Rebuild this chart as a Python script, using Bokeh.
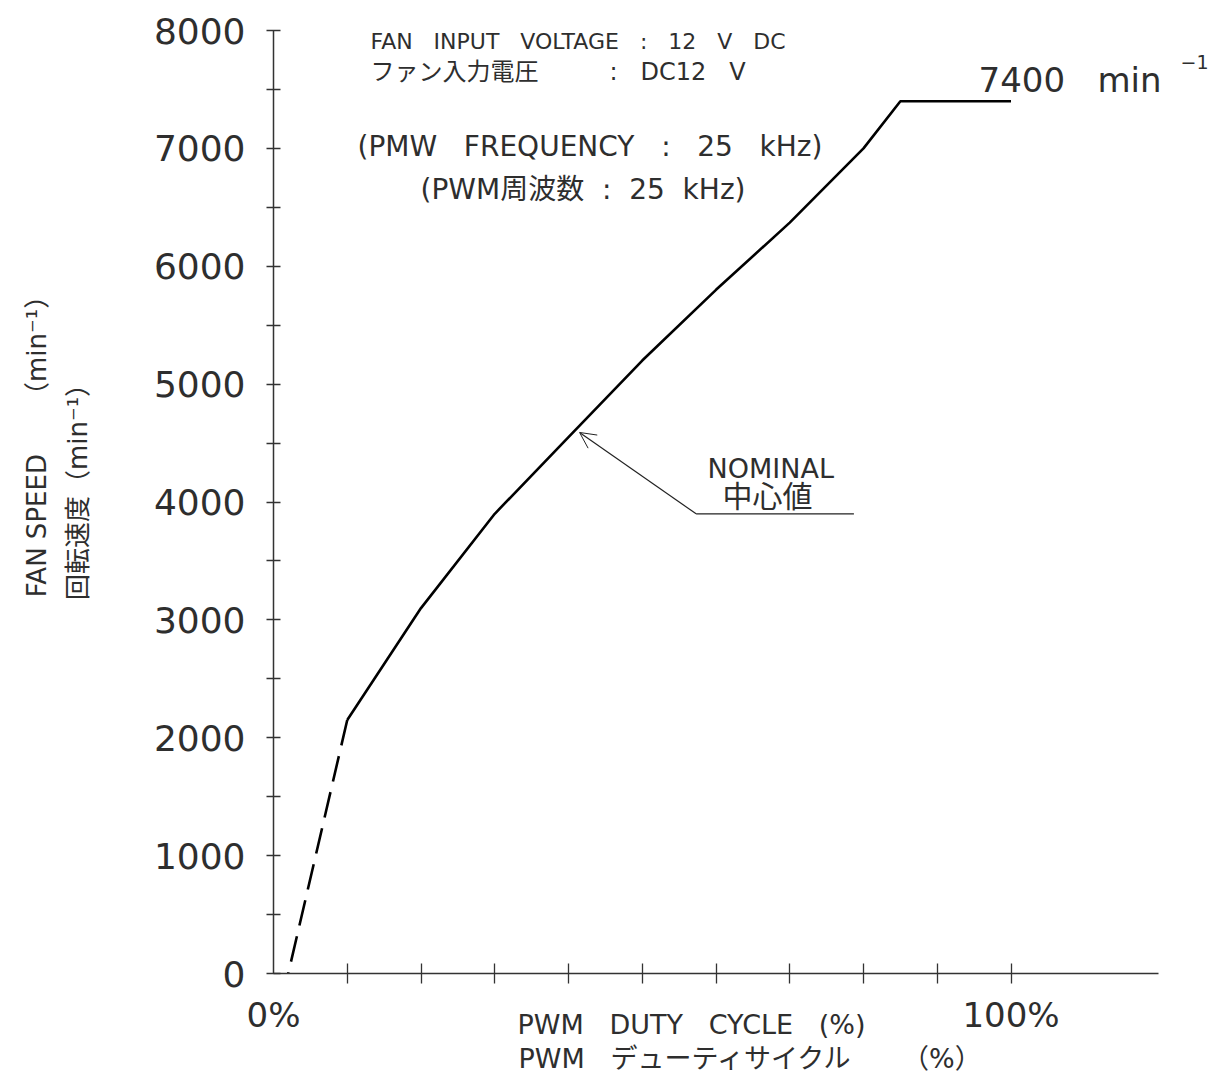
import math
from bokeh.plotting import figure
from bokeh.models import Range1d, FixedTicker, Label, Arrow, OpenHead
from bokeh.embed import file_html
from bokeh.resources import INLINE

# ---- data ----
duty_pct = [2, 10, 20, 30, 40, 50, 60, 70, 80, 85, 100]
fan_speed = [0, 2150, 3100, 3900, 4550, 5200, 5800, 6370, 7000, 7400, 7400]
y_major = [0, 1000, 2000, 3000, 4000, 5000, 6000, 7000, 8000]
y_minor = [500, 1500, 2500, 3500, 4500, 5500, 6500, 7500]
x_major = [0, 100]
x_major_labels = ["0%", "100%"]
x_minor = [10, 20, 30, 40, 50, 60, 70, 80, 90, 100]
x_axis_end = 120

# annotation (nominal leader) in data units
leader_tail = (57.3, 3900)
leader_tip = (41.5, 4590)
leader_end_x = 78.7

W, H = 1212, 1079
FL, FB = 273, 973   # frame left / bottom in page pixels
X_AXIS_RIGHT = 1158  # page pixel where the x axis line ends
FONT = "DejaVu Sans, Noto Sans CJK JP"
TXT = "#2e2e2e"
AX = "#333333"
NB = "\u00a0"
G2 = NB * 2
G3 = NB * 3

x_end = x_axis_end * (W - FL) / (X_AXIS_RIGHT - FL)

p = figure(width=W, height=H, output_backend="svg", toolbar_location=None,
           x_range=Range1d(0, x_end), y_range=Range1d(0, 8000),
           min_border_left=FL, min_border_right=0, min_border_top=30,
           min_border_bottom=H - FB)
p.outline_line_color = None
p.xgrid.visible = False
p.ygrid.visible = False
p.background_fill_color = "white"
p.border_fill_color = "white"

# axes
xa = p.xaxis[0]
xa.bounds = (0, x_axis_end)
xa.ticker = FixedTicker(ticks=x_major, minor_ticks=x_minor)
xa.major_label_overrides = {x: s for x, s in zip(x_major, x_major_labels)}
xa.major_tick_in = 0
xa.major_tick_out = 0
xa.minor_tick_in = 10
xa.minor_tick_out = 10
xa.axis_line_color = AX
xa.axis_line_width = 1.5
xa.minor_tick_line_color = AX
xa.minor_tick_line_width = 1.3
xa.major_label_standoff = 11
xa.major_label_text_font = FONT
xa.major_label_text_font_size = "34px"
xa.major_label_text_color = TXT
xa.axis_label = (NB * 2 + f"PWM{G3}DUTY{G3}CYCLE{G3}(%)" + NB * 14 + "\n"
                 + NB * 2 + f"PWM{G3}デューティサイクル{G3}{G3}（%）")
xa.axis_label_text_font = FONT
xa.axis_label_text_font_size = "27px"
xa.axis_label_text_font_style = "normal"
xa.axis_label_text_color = TXT
xa.axis_label_text_line_height = 1.1
xa.axis_label_standoff = -29

ya = p.yaxis[0]
ya.ticker = FixedTicker(ticks=y_major, minor_ticks=y_minor)
ya.major_tick_in = 7
ya.major_tick_out = 7
ya.minor_tick_in = 7
ya.minor_tick_out = 7
ya.axis_line_color = AX
ya.axis_line_width = 1.5
ya.major_tick_line_color = AX
ya.minor_tick_line_color = AX
ya.major_tick_line_width = 1.3
ya.minor_tick_line_width = 1.3
ya.major_label_standoff = 21
ya.major_label_text_font = FONT
ya.major_label_text_font_size = "36px"
ya.major_label_text_color = TXT
ya.axis_label = (NB * 15 + "FAN SPEED" + NB * 4 + "　（min⁻¹）" + "\n"
                 + NB * 15 + "回転速度（min⁻¹）" + NB * 11)
ya.axis_label_text_font = FONT
ya.axis_label_text_font_size = "26px"
ya.axis_label_text_font_style = "normal"
ya.axis_label_text_color = TXT
ya.axis_label_text_line_height = 1.35
ya.axis_label_standoff = 58

# curve: dashed start (drawn from the knee downward), then solid
p.line(duty_pct[1::-1], fan_speed[1::-1], line_color="black", line_width=2.6,
       line_dash="26 11")
p.line(duty_pct[1:], fan_speed[1:], line_color="black", line_width=2.6)

# nominal leader
p.add_layout(Arrow(end=OpenHead(size=16, line_width=1, line_color="#222222"),
                   x_start=leader_tail[0], y_start=leader_tail[1],
                   x_end=leader_tip[0], y_end=leader_tip[1],
                   line_width=1.2, line_color="#222222"))
p.line([leader_tail[0], leader_end_x], [leader_tail[1], leader_tail[1]],
       line_color="#222222", line_width=1.2)

DY = 9  # empirical baseline correction


def lab(text, px, py, size, align="left", baseline="alphabetic", angle=0.0):
    # px, py are page pixel positions; screen units are relative to the frame
    p.add_layout(Label(x=px - FL, y=FB - (py - DY), x_units="screen", y_units="screen",
                       text=text, text_font=FONT, text_font_size=f"{size}px",
                       text_color=TXT, text_align=align, text_baseline=baseline,
                       angle=angle))


lab(f"FAN{G3}INPUT{G3}VOLTAGE{G3}:{G3}12{G3}V{G3}DC", 370, 50, 22)
lab("ファン入力電圧", 370, 80, 24)
lab(f":{G3}DC12{G3}V", 609, 80, 24)
lab(f"(PMW{G3}FREQUENCY{G3}:{G3}25{G3}kHz)", 357, 155, 28)
lab(f"(PWM周波数{G2}:{G2}25{G2}kHz)", 420, 198, 28)
lab(f"7400{G3}min", 978, 88, 34)
lab("−1", 1180, 70, 19)
lab("NOMINAL", 707, 477, 27)
lab("中心値", 722, 505, 30)

open("out.html", "w").write(file_html(p, INLINE))
